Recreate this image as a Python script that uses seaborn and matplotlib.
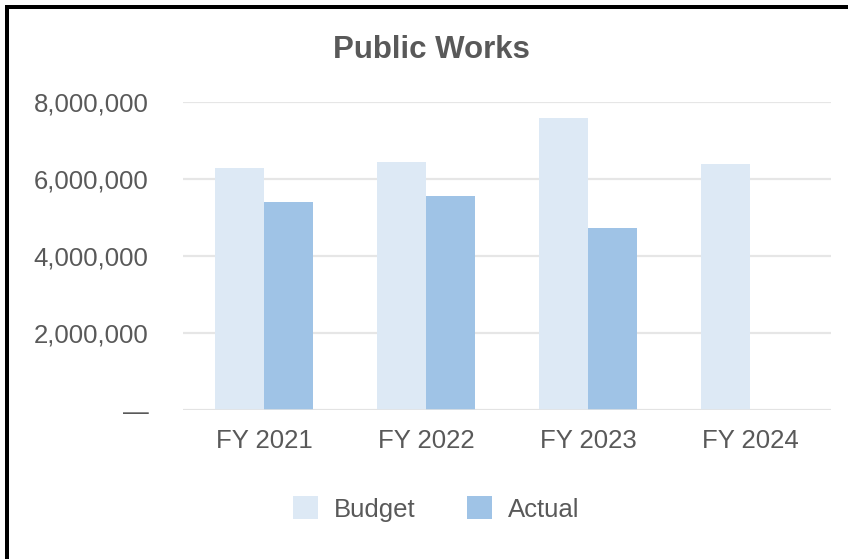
import matplotlib
matplotlib.use("Agg")
import matplotlib.pyplot as plt
import matplotlib.ticker as mticker
from matplotlib.patches import Rectangle
import numpy as np
import pandas as pd
import seaborn as sns

# Public Works budget vs. actual spending by fiscal year
years = ["FY 2021", "FY 2022", "FY 2023", "FY 2024"]
budget = [6290000, 6440000, 7580000, 6390000]
actual = [5400000, 5560000, 4730000, np.nan]
series = ["Budget", "Actual"]
colors = ["#dde9f5", "#9fc3e6"]
y_ticks = [0, 2000000, 4000000, 6000000, 8000000]

df = pd.DataFrame({
    "year": years * 2,
    "series": [series[0]] * len(years) + [series[1]] * len(years),
    "value": budget + actual,
})

sns.set_theme(style="white")
plt.rcParams["font.family"] = ["Liberation Sans", "DejaVu Sans"]
text_color = "#595959"

W, H = 848, 559
fig = plt.figure(figsize=(W / 100, H / 100), dpi=100)
ax = fig.add_axes([183 / W, 1 - 410 / H, (831 - 183) / W, (410 - 102) / H])

sns.barplot(data=df, x="year", y="value", hue="series", hue_order=series,
            palette=colors, width=0.6, gap=0, saturation=1, ax=ax,
            legend=False, linewidth=0, zorder=3)

ax.set_ylim(0, 8000000)
ax.set_xlim(-0.5, len(years) - 0.5)
ax.set_yticks(y_ticks)
ax.yaxis.set_major_formatter(mticker.FuncFormatter(
    lambda v, _: "\u2014" if v == 0 else f"{int(v):,}"))
ax.grid(axis="y", color="#e6e6e6", linewidth=1.6, zorder=0)
ax.grid(axis="x", visible=False)
for s in ax.spines.values():
    s.set_visible(False)
ax.axhline(0, color="#e3e3e3", linewidth=1.8, zorder=4)
ax.tick_params(axis="both", length=0, labelsize=18.5, labelcolor=text_color)
ax.tick_params(axis="y", pad=25)
ax.tick_params(axis="x", pad=14)
ax.set_xlabel("")
ax.set_ylabel("")

fig.text(431 / W, 1 - 58 / H, "Public Works", ha="center", va="baseline",
         fontsize=22.5, fontweight="bold", color=text_color)

handles = [Rectangle((0, 0), 1, 1, facecolor=c, edgecolor="none") for c in colors]
fig.legend(handles, series, loc="center", bbox_to_anchor=(436 / W, 1 - 509 / H),
           ncol=2, frameon=False, fontsize=18.5, labelcolor=text_color,
           handlelength=1.0, handleheight=1.0, handletextpad=0.6,
           columnspacing=2.0)

# frame edges along the left and top of the figure
fig.add_artist(Rectangle((5 / W, 0), 4 / W, 1 - 5 / H, transform=fig.transFigure,
                         facecolor="black", edgecolor="none"))
fig.add_artist(Rectangle((5 / W, 1 - 9 / H), 1 - 5 / W, 4 / H, transform=fig.transFigure,
                         facecolor="black", edgecolor="none"))

fig.savefig("out.png", dpi=100)
